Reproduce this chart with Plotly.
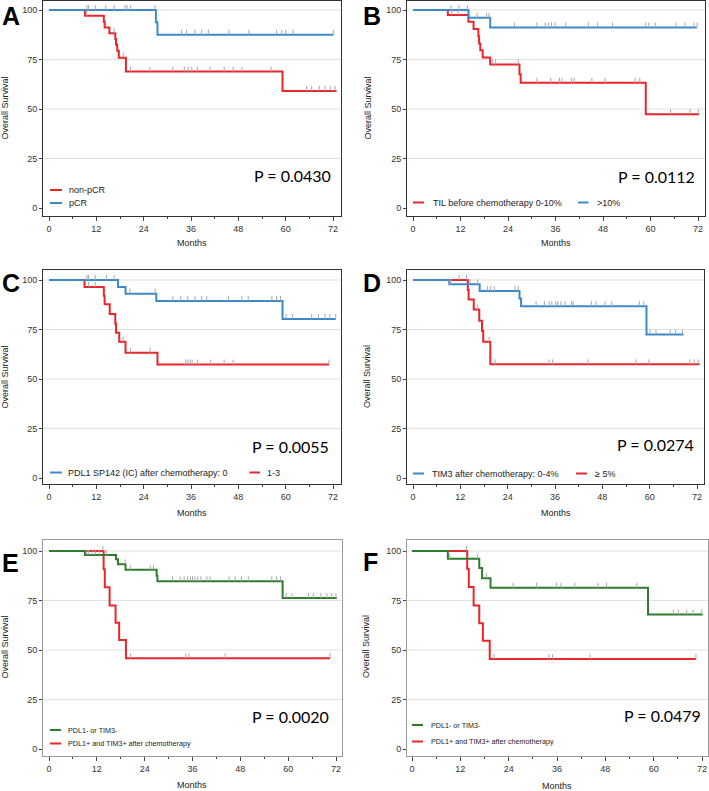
import plotly.graph_objects as go

W, H = 709, 791

# ---------------- DATA ----------------
X_TICKS = [0, 12, 24, 36, 48, 60, 72]
Y_TICKS = [0, 25, 50, 75, 100]

# Panel A
A_red_t = [0, 9.1, 13.9, 14.1, 15.3, 16.8, 17.0, 17.3, 17.7, 19.5, 59.2, 72.9]
A_red_s = [100, 97.1, 94.1, 91.2, 88.2, 85.3, 82.4, 79.4, 75.9, 68.9, 59.1, 59.1]
A_red_c = [9.6, 16.5, 18.8, 20.7, 25.6, 31.4, 34.3, 35.3, 36.2, 37.6, 40.8, 44.4, 46.7,
           48.9, 56.3, 65.3, 66.6, 68.5, 70.0, 71.3, 72.5]
A_blue_t = [0, 27.1, 27.5, 72.1]
A_blue_s = [100, 93.8, 87.5, 87.5]
A_blue_c = [9.6, 10.0, 11.7, 14.4, 16.5, 19.3, 19.8, 20.7, 26.9, 33.6, 34.9, 37.0, 38.7,
            40.4, 45.6, 50.7, 57.7, 59.0, 60.0, 61.9, 72.1]

# Panel B
B_red_t = [0, 8.8, 14.0, 15.3, 16.5, 16.7, 17.0, 17.6, 19.5, 26.9, 27.2, 58.8, 72.3]
B_red_s = [100, 97.5, 94.1, 90.4, 86.8, 83.1, 79.7, 76.0, 72.5, 67.6, 63.2, 47.4, 47.4]
B_red_c = [9.8, 11.4, 20.1, 20.8, 26.6, 31.3, 34.8, 37.0, 37.6, 40.1, 40.7, 45.2, 48.5,
           56.1, 57.3, 65.1, 70.0, 72.1]
B_blue_t = [0, 14.0, 19.5, 71.7]
B_blue_s = [100, 96.1, 91.2, 91.2]
B_blue_c = [9.6, 11.6, 13.8, 16.2, 18.6, 19.2, 25.6, 31.3, 33.4, 34.2, 35.0, 35.9, 38.6,
            44.3, 46.6, 50.4, 58.8, 59.6, 61.3, 66.4, 68.7, 71.0, 71.8]

# Panel C
C_blue_t = [0, 17.5, 19.4, 27.2, 59.2, 72.7]
C_blue_s = [100, 96.5, 93.1, 89.4, 80.3, 80.3]
C_blue_c = [9.6, 10.0, 11.7, 14.6, 16.5, 20.5, 26.9, 31.4, 33.4, 35.2, 37.0, 38.7, 40.0,
            45.5, 48.9, 50.5, 56.5, 57.7, 58.7, 60.1, 61.7, 66.6, 68.3, 70.0, 71.2, 72.7]
C_red_t = [0, 9.0, 13.9, 14.1, 15.4, 16.8, 17.0, 17.8, 19.4, 27.5, 71.0]
C_red_s = [100, 96.5, 92.1, 87.7, 82.8, 78.0, 73.3, 68.8, 63.3, 57.3, 57.3]
C_red_c = [10.0, 11.7, 18.8, 20.7, 25.6, 34.7, 35.2, 35.8, 36.3, 37.7, 41.0, 44.4, 46.7, 71.0]

# Panel D
D_blue_t = [0, 9.2, 16.9, 27.0, 27.4, 59.2, 68.6]
D_blue_s = [100, 97.8, 94.4, 90.7, 86.8, 72.5, 72.5]
D_blue_c = [9.4, 9.6, 14.5, 16.4, 18.9, 19.7, 20.6, 25.9, 26.7, 31.2, 33.3, 34.5, 35.2,
            36.2, 36.7, 37.5, 38.5, 40.2, 40.6, 45.2, 46.4, 48.7, 50.4, 57.4, 58.5, 60.1,
            61.6, 65.2, 66.6, 68.3]
D_red_t = [0, 13.9, 14.1, 15.4, 16.8, 17.5, 17.8, 19.6, 72.7]
D_red_s = [100, 94.9, 90.2, 85.1, 79.4, 74.3, 68.8, 57.4, 57.4]
D_red_c = [11.7, 13.6, 16.4, 19.3, 20.8, 34.5, 35.4, 44.4, 56.5, 59.8, 70.2, 71.3, 72.3]

# Panel E
E_green_t = [0, 9.0, 16.8, 17.3, 19.2, 27.0, 27.2, 58.6, 72.2]
E_green_s = [100, 98.0, 95.8, 93.3, 90.5, 87.5, 84.7, 76.2, 76.2]
E_green_c = [9.5, 10.0, 11.0, 11.7, 12.6, 14.4, 19.1, 20.4, 25.4, 26.2, 31.0, 32.9, 33.9,
             34.8, 35.5, 36.0, 36.6, 37.3, 38.1, 39.6, 40.4, 45.2, 46.7, 48.3, 50.0, 55.9,
             57.1, 58.1, 59.5, 61.0, 65.1, 66.3, 68.2, 69.7, 70.9, 72.0]
E_red_t = [0, 13.7, 14.0, 15.2, 16.7, 17.6, 19.3, 70.5]
E_red_s = [100, 90.8, 81.7, 72.5, 63.7, 55.0, 45.8, 45.8]
E_red_c = [13.5, 20.5, 34.3, 35.1, 44.2, 70.5]

# Panel F
F_green_t = [0, 8.9, 16.7, 17.4, 19.5, 58.6, 72.2]
F_green_s = [100, 96.1, 91.4, 86.3, 81.4, 67.9, 67.9]
F_green_c = [9.4, 16.3, 18.5, 25.1, 30.9, 35.9, 37.0, 40.4, 46.2, 48.3, 55.8, 64.9, 66.1,
             68.2, 69.8, 71.9]
F_red_t = [0, 13.7, 14.1, 15.3, 16.7, 17.6, 19.3, 70.5]
F_red_s = [100, 91.0, 81.8, 72.5, 63.5, 54.7, 45.4, 45.4]
F_red_c = [13.5, 20.4, 34.0, 34.9, 44.2, 70.5]

P_VALUES = ["P = 0.0430", "P = 0.0112", "P = 0.0055", "P = 0.0274", "P = 0.0020", "P = 0.0479"]
LETTERS = ["A", "B", "C", "D", "E", "F"]

# ---------------- STYLE ----------------
RED = "#e8262c"
BLUE = "#3c8ac9"
GREEN = "#2e7d2e"
CENSOR = "#a8a8a8"
FONT = "Liberation Sans, Arial, sans-serif"
CENSOR_PX = 5  # censor tick height above the curve, in pixels


def px(x):
    return x / W


def py(y):
    return 1 - y / H


def step_value(t, ts, ss):
    v = ss[0]
    for ti, si in zip(ts, ss):
        if ti <= t:
            v = si
    return v


# panel geometry in pixels: box (L,T,R,B), x=0 & x=72 pixel, y=100 & y=0 pixel
panels = [
    dict(box=(43, 0.5, 341, 216), x0=49, x72=333, y100=10, y0=208, frame="#333333",
         series=[(A_red_t, A_red_s, A_red_c, RED), (A_blue_t, A_blue_s, A_blue_c, BLUE)],
         legend=[(RED, "non-pCR", 50, 62, 190, 67), (BLUE, "pCR", 50, 62, 203, 67)], lfont=9,
         ytitle=(4.5, 108), xtitle=(192, 243), pval=(332.7, 175.5), letter=(-0.5, 15.5)),
    dict(box=(407, 0.5, 705, 216), x0=413, x72=698, y100=10, y0=208, frame="#333333",
         series=[(B_red_t, B_red_s, B_red_c, RED), (B_blue_t, B_blue_s, B_blue_c, BLUE)],
         legend=[(RED, "TIL before chemotherapy 0-10%", 413, 424, 202.5, 430.5),
                 (BLUE, ">10%", 578, 588.5, 202.5, 594.5)], lfont=9,
         ytitle=(367.5, 108), xtitle=(556, 243), pval=(696.7, 176), letter=(361, 15.5)),
    dict(box=(43, 270, 341, 484), x0=49, x72=333, y100=280, y0=478, frame="#333333",
         series=[(C_red_t, C_red_s, C_red_c, RED), (C_blue_t, C_blue_s, C_blue_c, BLUE)],
         legend=[(BLUE, "PDL1 SP142 (IC) after chemotherapy: 0", 50, 62, 472.5, 66),
                 (RED, "1-3", 249.5, 260, 472.5, 265)], lfont=9,
         ytitle=(4.5, 377), xtitle=(192, 513), pval=(331, 446), letter=(0, 282.5)),
    dict(box=(407, 270, 704, 484), x0=413, x72=697, y100=280, y0=478, frame="#333333",
         series=[(D_red_t, D_red_s, D_red_c, RED), (D_blue_t, D_blue_s, D_blue_c, BLUE)],
         legend=[(BLUE, "TIM3 after chemotherapy: 0-4%", 413, 424, 473.5, 430),
                 (RED, "\u2265 5%", 576, 587, 473.5, 592.5)], lfont=9,
         ytitle=(367, 377), xtitle=(556, 513), pval=(695.7, 445), letter=(360.5, 282.5)),
    dict(box=(43, 540, 342, 756), x0=49, x72=336, y100=551, y0=749, frame="#9a9a9a",
         series=[(E_red_t, E_red_s, E_red_c, RED), (E_green_t, E_green_s, E_green_c, GREEN)],
         legend=[(GREEN, "PDL1- or TIM3-", 50, 61, 730, 66),
                 (RED, "PDL1+ and TIM3+ after chemotherapy", 50, 61, 743.5, 66)], lfont=7.2,
         ytitle=(4.5, 647), xtitle=(192, 785), pval=(331, 716), letter=(0, 562.5)),
    dict(box=(407, 540, 708, 756), x0=412, x72=702, y100=551, y0=749, frame="#9a9a9a",
         series=[(F_red_t, F_red_s, F_red_c, RED), (F_green_t, F_green_s, F_green_c, GREEN)],
         legend=[(GREEN, "PDL1- or TIM3-", 412, 423, 725, 429),
                 (RED, "PDL1+ and TIM3+ after chemotherapy", 412, 423, 741.5, 429)], lfont=7.2,
         ytitle=(366, 647), xtitle=(557, 786), pval=(703.3, 715), letter=(361, 562)),
]

fig = go.Figure()
shapes = []
annotations = []
layout_axes = {}

for i, p in enumerate(panels, start=1):
    L, T, R, B = p["box"]
    xs = (p["x72"] - p["x0"]) / 72.0
    ys = (p["y0"] - p["y100"]) / 100.0
    xr = [(L - p["x0"]) / xs, (R - p["x0"]) / xs]
    yr = [-(B - p["y0"]) / ys, 100 + (p["y100"] - T) / ys]
    xa = "x" if i == 1 else f"x{i}"
    ya = "y" if i == 1 else f"y{i}"
    fc = p["frame"]
    layout_axes["xaxis" if i == 1 else f"xaxis{i}"] = dict(
        domain=[px(L), px(R)], range=xr, anchor=ya,
        tickmode="array", tickvals=X_TICKS, ticktext=[str(v) for v in X_TICKS],
        ticks="outside", ticklen=4, tickwidth=1, tickcolor="#444444",
        minor=dict(ticks="outside", ticklen=2, tickwidth=1, tickcolor="#444444",
                   tickvals=[6, 18, 30, 42, 54, 66], showgrid=False),
        showline=True, linecolor=fc, linewidth=1, mirror=True,
        showgrid=False, zeroline=False, fixedrange=True,
        tickfont=dict(family=FONT, size=9, color="#333333"),
    )
    layout_axes["yaxis" if i == 1 else f"yaxis{i}"] = dict(
        domain=[py(B), py(T)], range=yr, anchor=xa,
        tickmode="array", tickvals=Y_TICKS, ticktext=[str(v) for v in Y_TICKS],
        ticks="outside", ticklen=3, tickwidth=1, tickcolor="#444444",
        showline=True, linecolor=fc, linewidth=1, mirror=True,
        showgrid=False, zeroline=False, fixedrange=True,
        tickfont=dict(family=FONT, size=9, color="#333333"),
    )
    # horizontal grid lines
    for gv in Y_TICKS[1:]:
        shapes.append(dict(type="line", xref=f"{xa} domain", yref=ya, x0=0, x1=1, y0=gv, y1=gv,
                           line=dict(color="#e2e2e2", width=1.2 if gv == 100 else 1),
                           layer="below"))
    # curves
    for ts, ss, cs, col in p["series"]:
        fig.add_trace(go.Scatter(x=ts, y=ss, mode="lines", line=dict(color=col, width=2, shape="hv"),
                                 xaxis=xa, yaxis=ya, showlegend=False, hoverinfo="skip"))
    # censor marks: short grey ticks rising from the curve (drawn as one-sided error bars)
    for ts, ss, cs, col in p["series"]:
        fig.add_trace(go.Scatter(x=cs, y=[step_value(c, ts, ss) for c in cs], mode="markers",
                                 marker=dict(size=1, color="rgba(0,0,0,0)"),
                                 error_y=dict(type="constant", symmetric=False,
                                              value=CENSOR_PX / ys, valueminus=0,
                                              width=0, thickness=1, color=CENSOR),
                                 xaxis=xa, yaxis=ya, showlegend=False, hoverinfo="skip"))
    # legend (drawn manually)
    for col, txt, lx0, lx1, ly, tx in p["legend"]:
        shapes.append(dict(type="line", xref="paper", yref="paper", x0=px(lx0), x1=px(lx1),
                           y0=py(ly), y1=py(ly), line=dict(color=col, width=2)))
        annotations.append(dict(text=txt, xref="paper", yref="paper", x=px(tx), y=py(ly),
                                xanchor="left", yanchor="middle", showarrow=False,
                                font=dict(family=FONT, size=p["lfont"], color="#222222")))
    # titles
    annotations.append(dict(text="Overall Survival", xref="paper", yref="paper",
                            x=px(p["ytitle"][0]), y=py(p["ytitle"][1]), textangle=-90,
                            xanchor="center", yanchor="middle", showarrow=False,
                            font=dict(family=FONT, size=9, color="#222222")))
    annotations.append(dict(text="Months", xref="paper", yref="paper",
                            x=px(p["xtitle"][0]), y=py(p["xtitle"][1]),
                            xanchor="center", yanchor="middle", showarrow=False,
                            font=dict(family=FONT, size=9, color="#222222")))
    annotations.append(dict(text=P_VALUES[i - 1], xref="paper", yref="paper",
                            x=px(p["pval"][0]), y=py(p["pval"][1]),
                            xanchor="right", yanchor="middle", showarrow=False,
                            font=dict(family="Lato, Open Sans, sans-serif", size=16, color="#000000")))
    annotations.append(dict(text=f"<b>{LETTERS[i - 1]}</b>", xref="paper", yref="paper",
                            x=px(p["letter"][0]), y=py(p["letter"][1]),
                            xanchor="left", yanchor="middle", showarrow=False,
                            font=dict(family=FONT, size=25, color="#000000")))

fig.update_layout(
    width=W, height=H, margin=dict(l=0, r=0, t=0, b=0),
    paper_bgcolor="white", plot_bgcolor="white",
    shapes=shapes, annotations=annotations, showlegend=False,
    **layout_axes,
)

fig.write_html(
    "out.html",
    config={"displayModeBar": False, "staticPlot": True},
    post_script="document.body.style.margin='0';document.body.style.padding='0';"
                "document.body.style.overflow='hidden';",
)
